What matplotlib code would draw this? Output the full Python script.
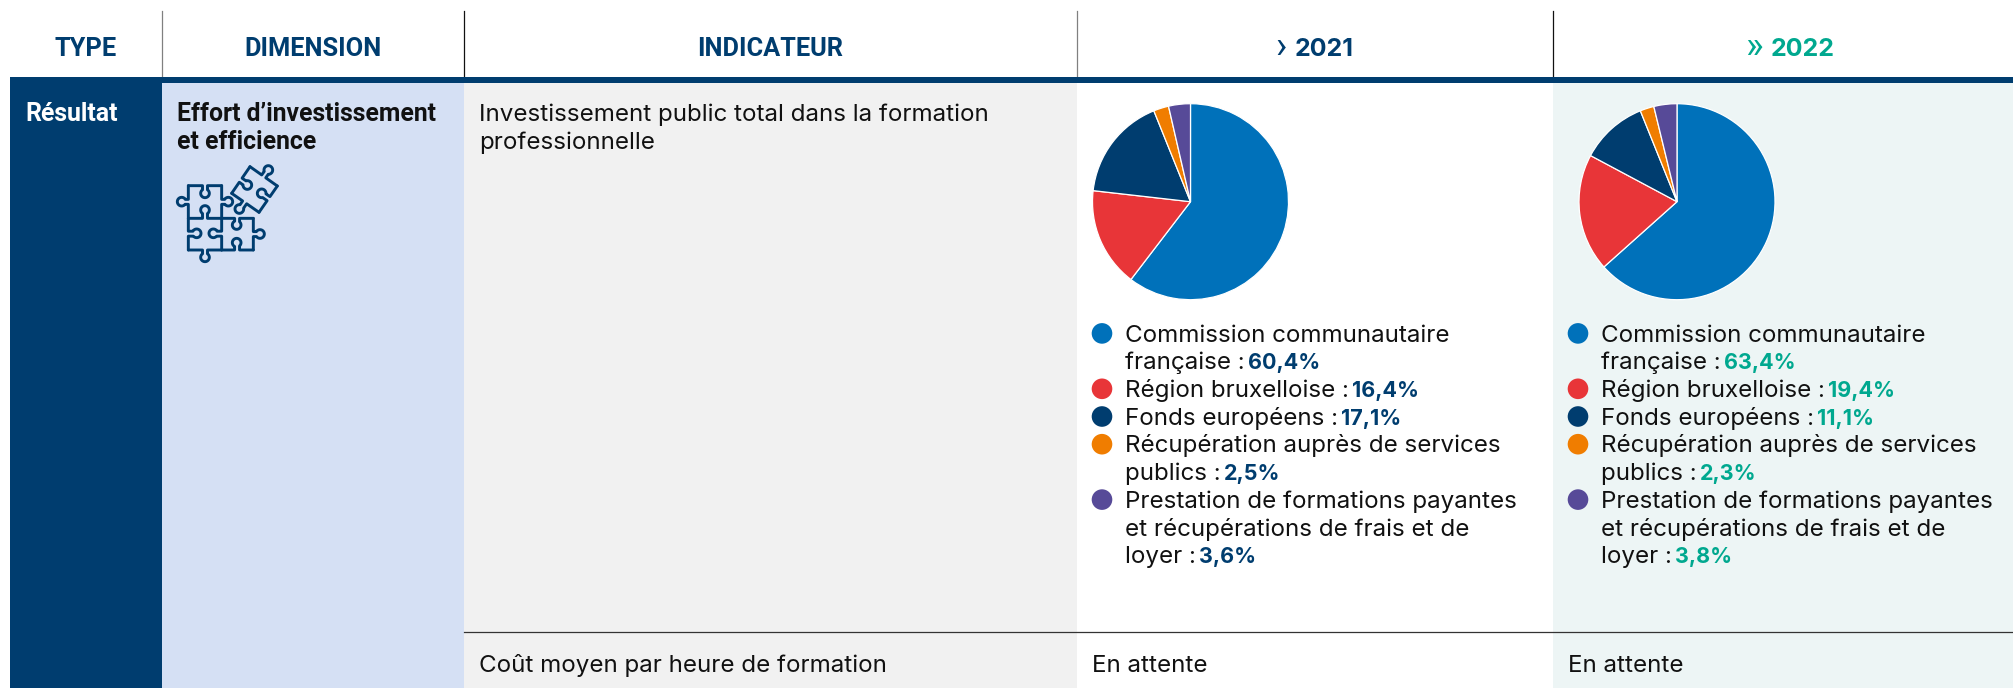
import matplotlib
matplotlib.use('Agg')
import matplotlib.pyplot as plt
import numpy as np
from matplotlib.patches import Circle, Rectangle

plt.rcParams['font.family'] = ['Inter', 'DejaVu Sans']

# data
headers = ['TYPE', 'DIMENSION', 'INDICATEUR']
years = ['2021', '2022']
chevrons = ['›', '»']
labels = ['Commission communautaire\nfrançaise', 'Région bruxelloise',
          'Fonds européens', 'Récupération auprès de services\npublics',
          'Prestation de formations payantes\net récupérations de frais et de\nloyer']
values_2021 = [60.4, 16.4, 17.1, 2.5, 3.6]
values_2022 = [63.4, 19.4, 11.1, 2.3, 3.8]
colors = ['#0071BA', '#E83538', '#003D6F', '#F07D00', '#574A98']

NAVY = '#003D6F'
TEAL = '#00A88F'
INK = '#111111'
BODY = 17.4
W, H = 2013, 688

fig = plt.figure(figsize=(W / 100, H / 100), dpi=100)
ax = fig.add_axes([0, 0, 1, 1])
ax.set_xlim(0, W)
ax.set_ylim(H, 0)
ax.axis('off')

# column backgrounds
ax.add_patch(Rectangle((10, 77), 152, H - 77, color=NAVY, lw=0))
ax.add_patch(Rectangle((162, 82), 302, H - 82, color='#D5E0F4', lw=0))
ax.add_patch(Rectangle((464, 82), 613, H - 82, color='#F1F1F1', lw=0))
ax.add_patch(Rectangle((1553, 82), W - 1553, H - 82, color='#EDF5F5', lw=0))
ax.add_patch(Rectangle((10, 77), W - 10, 5.5, color=NAVY, lw=0, zorder=3))

# separators
ax.plot([162, 162], [11, 77], color='#808080', lw=0.9)
ax.plot([464, 464], [11, 77], color='#111111', lw=0.9)
ax.plot([1077, 1077], [11, 77], color='#808080', lw=0.9)
ax.plot([1553, 1553], [11, 77], color='#111111', lw=0.9)
ax.plot([464, W], [632, 632], color='#333333', lw=0.9)

HEAD = ['Liberation Sans Narrow', 'Roboto']
for name, xc in zip(headers, [86, 313, 770]):
    ax.text(xc, 56.5, name, family=HEAD, weight='bold', fontsize=18.3,
            color=NAVY, ha='center', va='baseline')


def text_run(x, y, parts):
    # parts: (text, weight, colour, size), placed one after another
    r = fig.canvas.get_renderer()
    for s, weight, col, size in parts:
        t = ax.text(x, y, s, fontsize=size, fontweight=weight, color=col, va='baseline')
        x = t.get_window_extent(r).x1 + 3


def year_head(xc, chev, year, col):
    r = fig.canvas.get_renderer()
    a = ax.text(0, 58, chev, family='Roboto', fontsize=27, color=col, va='baseline')
    b = ax.text(0, 56.5, year, family='Inter', weight='bold', fontsize=18, color=col, va='baseline')
    wa = a.get_window_extent(r).width
    wb = b.get_window_extent(r).width
    x0 = xc - (wa + 8 + wb) / 2
    a.set_x(x0)
    b.set_x(x0 + wa + 8)


year_head(1314, chevrons[0], years[0], NAVY)
year_head(1790, chevrons[1], years[1], TEAL)

ax.text(25, 120.7, 'Résultat', family='Roboto', weight='bold', fontsize=17.9, color='white', va='baseline')
ax.text(177, 120.7, 'Effort d’investissement', family='Roboto', weight='bold', fontsize=17.8, color=INK, va='baseline')
ax.text(177, 148.7, 'et efficience', family='Roboto', weight='bold', fontsize=17.8, color=INK, va='baseline')
ax.text(479, 120.7, 'Investissement public total dans la formation', fontsize=BODY, color=INK, va='baseline')
ax.text(479, 148.7, 'professionnelle', fontsize=BODY, color=INK, va='baseline')
ax.text(479, 671.7, 'Coût moyen par heure de formation', fontsize=BODY, color=INK, va='baseline')


# puzzle icon: each edge goes p0 -> neck -> knob circle -> neck -> p1, in crop coordinates
def puzzle_edge(p0, p1, c, r=13):
    p0, p1 = np.array(p0, float), np.array(p1, float)
    c = np.array(c, float)
    mid = (p0 + p1) / 2
    base = np.arctan2(*(mid - c)[::-1])
    a0, a1 = base + np.radians(35), base + np.radians(325)
    n0 = c + r * np.array([np.cos(a0), np.sin(a0)])
    n1 = c + r * np.array([np.cos(a1), np.sin(a1)])
    if np.hypot(*(n0 - p0)) > np.hypot(*(n1 - p0)):
        a0, a1 = a1, a0
        n0, n1 = n1, n0
    t = (p1 - p0) / np.hypot(*(p1 - p0))
    neck0 = p0 + t * np.dot(n0 - p0, t)
    neck1 = p0 + t * np.dot(n1 - p0, t)
    ang = np.linspace(a0, a1, 30)
    arc = np.column_stack([c[0] + r * np.cos(ang), c[1] + r * np.sin(ang)])
    pts = np.vstack([p0, neck0, arc, neck1, p1])
    ax.plot(160 + pts[:, 0] / 3, 150 + pts[:, 1] / 3, color=NAVY, lw=2.1,
            solid_joinstyle='round', solid_capstyle='round', zorder=4)


puzzle_edge((85, 107), (185, 107), (135, 130))
puzzle_edge((85, 107), (85, 205), (65, 155))
puzzle_edge((185, 107), (185, 205), (205, 155))
puzzle_edge((85, 205), (185, 205), (135, 180))
puzzle_edge((85, 205), (85, 300), (110, 250))
puzzle_edge((185, 205), (185, 300), (160, 250))
puzzle_edge((85, 300), (185, 300), (135, 322))
puzzle_edge((185, 205), (280, 205), (230, 225))
puzzle_edge((185, 300), (280, 300), (230, 278))
puzzle_edge((280, 205), (280, 300), (300, 252))
puzzle_edge((270, 50), (352, 108), (325, 60))
puzzle_edge((270, 50), (215, 130), (262, 105))
puzzle_edge((352, 108), (297, 187), (305, 130))
puzzle_edge((215, 130), (297, 187), (238, 177))


def draw_block(x_pie, x_dot, x_text, vals, col):
    pie_ax = fig.add_axes([(x_pie - 98) / W, 1 - (201.7 + 98) / H, 196 / W, 196 / H])
    pie_ax.pie(vals, colors=colors, startangle=90, counterclock=False, radius=1,
               wedgeprops={'edgecolor': 'white', 'linewidth': 0.9})
    pie_ax.set_xlim(-1, 1)
    pie_ax.set_ylim(-1, 1)
    pie_ax.patch.set_alpha(0)

    y = 341.7
    for lab, v, c in zip(labels, vals, colors):
        ax.add_patch(Circle((x_dot, y - 8.3), 10.3, color=c, lw=0))
        lines = lab.split('\n')
        for ln in lines[:-1]:
            text_run(x_text, y, [(ln, 'normal', INK, BODY)])
            y += 27.7
        val = f'{v:.1f}'.replace('.', ',') + '%'
        text_run(x_text, y, [(lines[-1] + ' :', 'normal', INK, BODY), (val, 'bold', col, 15.5)])
        y += 27.7


draw_block(1190.5, 1102, 1125, values_2021, NAVY)
draw_block(1677, 1578, 1601, values_2022, TEAL)

ax.text(1092, 671.7, 'En attente', fontsize=BODY, color=INK, va='baseline')
ax.text(1568, 671.7, 'En attente', fontsize=BODY, color=INK, va='baseline')

fig.savefig('out.png', dpi=100)
